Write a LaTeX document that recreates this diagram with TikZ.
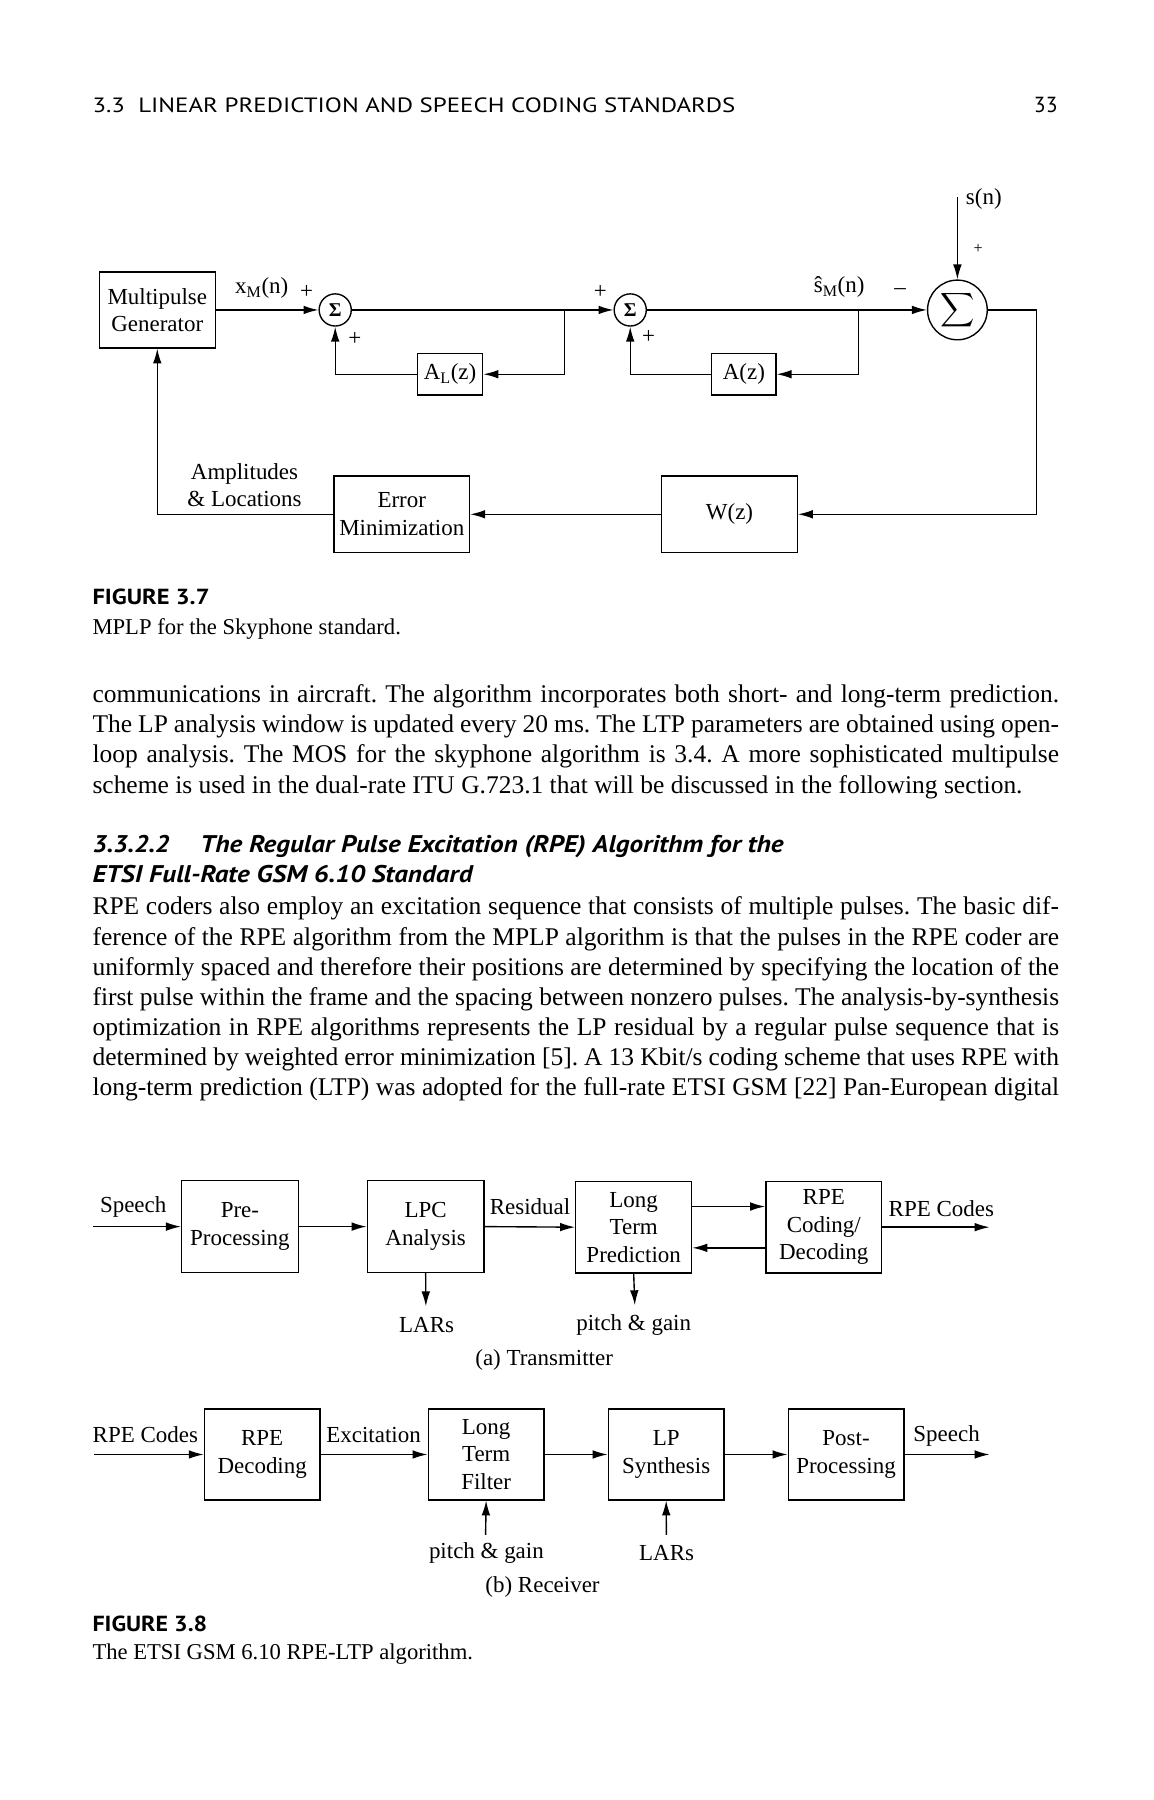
\documentclass[tikz,border=0pt]{standalone}
\usepackage{graphicx}
\usepackage{amsmath}
\usepackage{fontspec}
\setmainfont{Liberation Serif}
\newfontfamily\hsans{PT Sans}
\usetikzlibrary{arrows.meta,calc}
\frenchspacing
\newcommand\fitto[2]{\resizebox{#1}{\height}{#2}}
\newcommand\dfont{\fontsize{20}{24}\selectfont}
\newcommand\bfont{\fontsize{22.2}{26}\selectfont}
\newcommand\jl[1]{\makebox[842pt][s]{#1}}
\begin{document}
\begin{tikzpicture}[x=1pt,y=-1pt,line width=1.2pt,
  >={Latex[length=13pt,width=7.5pt]},
  blk/.style={draw,inner sep=0pt,align=center,font=\dfont},
  sumc/.style={draw,circle,inner sep=0pt,minimum size=28pt,font=\fontsize{17}{17}\selectfont\bfseries},
  lab/.style={inner sep=0pt,font=\dfont},
  pm/.style={inner sep=0pt,font=\fontsize{20}{20}\selectfont},
  conn/.style={draw,->},
  bodyline/.style={anchor=base west,inner sep=0pt,font=\bfont},
  capline/.style={anchor=base west,inner sep=0pt,font=\fontsize{19.7}{24}\selectfont},
  figlab/.style={anchor=base west,inner sep=0pt,font=\hsans\bfseries\fontsize{19}{22}\selectfont}]
\useasboundingbox[fill=white] (0,0) rectangle (1005,1568);

% ---------- running header ----------
\node[anchor=base west,inner sep=0pt] (hdr) at (80,98) {\fitto{560pt}{\hsans\fontsize{18}{20}\selectfont 3.3\ \ LINEAR PREDICTION AND SPEECH CODING STANDARDS}};
\node[anchor=base east,inner sep=0pt] (pg) at (922,98) {\hsans\fontsize{19}{20}\selectfont 33};

% ---------- Figure 3.7 ----------
\node[blk,minimum width=101pt,minimum height=66pt] (mp) at (137,270) {Multipulse\\Generator};
\node[sumc] (s1) at (292,270) {Σ};
\node[sumc] (s2) at (549,270) {Σ};
\node[blk,minimum width=57pt,minimum height=36pt] (al) at (392,326) {A\textsubscript{L}(z)};
\node[blk,minimum width=56pt,minimum height=36pt] (az) at (648,326) {A(z)};
\node[draw,circle,inner sep=0pt,minimum size=52pt,font=\dfont] (big) at (834,270) {$\displaystyle\sum$};
\node[blk,minimum width=118pt,minimum height=67pt] (wz) at (635.5,448) {W(z)};
\node[blk,minimum width=118pt,minimum height=67pt] (em) at (350,448) {Error\\Minimization};
\coordinate (b1) at (492,270);
\coordinate (b2) at (748,270);
\coordinate (sn) at (834,172);
\coordinate (rt) at (903,270);

\draw[->] (mp.east) -- (s1.west);
\draw[->] (s1.east) -- (s2.west);
\draw[->] (b1) |- (al.east);
\draw[->] (al.west) -| (s1.south);
\draw[->] (s2.east) -- (big.west);
\draw[->] (b2) |- (az.east);
\draw[->] (az.west) -| (s2.south);
\draw[->] (sn) -- (big.north);
\draw[->] (big.east) -- (rt) |- (wz.east);
\draw[->] (wz.west) -- (em.east);
\draw[->] (em.west) -| (mp.south);

\node[lab] (xm) at (228,251) {x\textsubscript{M}(n)};
\node[pm] (p1) at (267,254) {+};
\node[pm] (p2) at (309,295) {+};
\node[pm] (p3) at (523,254) {+};
\node[pm] (p4) at (565,294) {+};
\node[lab] (sm) at (731,250) {\^{s}\textsubscript{M}(n)};
\node[pm] (mn) at (784,254) {\textendash};
\node[lab] (snl) at (857,173) {s(n)};
\node[pm,font=\fontsize{14}{14}\selectfont] (p5) at (852,217) {+};
\node[lab,align=center,font=\fontsize{20}{23.5}\selectfont] (amp) at (213,423) {Amplitudes\\\& Locations};

% caption 3.7
\node[figlab] (f37) at (80,527) {\fitto{102pt}{FIGURE 3.7}};
\node[capline] (c37) at (80,553) {MPLP for the Skyphone standard.};

% ---------- body text ----------
\node[bodyline] (a1) at (80,612) {\jl{communications in aircraft. The algorithm incorporates both short- and long-term prediction.}};
\node[bodyline] (a2) at (80,638.3) {\jl{The LP analysis window is updated every 20 ms. The LTP parameters are obtained using open-}};
\node[bodyline] (a3) at (80,664.6) {\jl{loop analysis. The MOS for the skyphone algorithm is 3.4. A more sophisticated multipulse}};
\node[bodyline] (a4) at (80,691) {scheme is used in the dual-rate ITU G.723.1 that will be discussed in the following section.};

\node[anchor=base west,inner sep=0pt] (hn) at (80,743) {\fitto{67pt}{\hsans\bfseries\itshape\fontsize{21}{24}\selectfont 3.3.2.2}};
\node[anchor=base west,inner sep=0pt] (h1) at (174,743) {\fitto{508pt}{\hsans\bfseries\itshape\fontsize{21}{24}\selectfont The Regular Pulse Excitation (RPE) Algorithm for the}};
\node[anchor=base west,inner sep=0pt] (h2) at (80,769) {\fitto{331pt}{\hsans\bfseries\itshape\fontsize{21}{24}\selectfont ETSI Full-Rate GSM 6.10 Standard}};

\node[bodyline] (b1l) at (80,797) {\jl{RPE coders also employ an excitation sequence that consists of multiple pulses. The basic dif-}};
\node[bodyline] (b2l) at (80,823.2) {\jl{ference of the RPE algorithm from the MPLP algorithm is that the pulses in the RPE coder are}};
\node[bodyline] (b3l) at (80,849.4) {\jl{uniformly spaced and therefore their positions are determined by specifying the location of the}};
\node[bodyline] (b4l) at (80,875.6) {\jl{first pulse within the frame and the spacing between nonzero pulses. The analysis-by-synthesis}};
\node[bodyline] (b5l) at (80,901.8) {\jl{optimization in RPE algorithms represents the LP residual by a regular pulse sequence that is}};
\node[bodyline] (b6l) at (80,928) {\jl{determined by weighted error minimization [5]. A 13 Kbit/s coding scheme that uses RPE with}};
\node[bodyline] (b7l) at (80,954.2) {\jl{long-term prediction (LTP) was adopted for the full-rate ETSI GSM [22] Pan-European digital}};

% ---------- Figure 3.8 (a) Transmitter ----------
\node[blk,minimum width=101.6pt,minimum height=80pt] (pre) at (209,1068.5) {Pre-\\Processing};
\node[blk,minimum width=101.6pt,minimum height=80pt] (lpc) at (370.8,1068.5) {LPC\\Analysis};
\node[blk,minimum width=101pt,minimum height=80pt] (ltp) at (552,1069) {Long\\Term\\Prediction};
\node[blk,minimum width=101pt,minimum height=80pt] (rpe) at (717.6,1069) {RPE\\Coding/\\Decoding};
\coordinate (tin) at (81,1068.5);
\coordinate (tout) at (862,1069);
\coordinate (lars1) at (371,1138);
\coordinate (pg1) at (553,1137);
\draw[->] (tin) -- (pre.west);
\draw[->] (pre.east) -- (lpc.west);
\draw[->] (lpc.east) -- (ltp.west);
\draw[->] (ltp.east |- 0,1051) -- (rpe.west |- 0,1051);
\draw[->] (rpe.west |- 0,1087) -- (ltp.east |- 0,1087);
\draw[->] (rpe.east) -- (tout);
\draw[->] (lpc.south) -- (lars1);
\draw[->] (ltp.south) -- (pg1);
\node[lab] (sp1) at (116,1051) {Speech};
\node[lab] (res) at (461.7,1051) {Residual};
\node[lab] (rc1) at (820,1052.6) {RPE Codes};
\node[lab] (lar1) at (371.6,1154) {LARs};
\node[lab] (pgl1) at (552,1154) {pitch \& gain};
\node[lab] (tx) at (474,1185) {(a) Transmitter};

% ---------- Figure 3.8 (b) Receiver ----------
\node[blk,minimum width=100.7pt,minimum height=79pt] (rdec) at (228.4,1267) {RPE\\Decoding};
\node[blk,minimum width=101pt,minimum height=79pt] (ltf) at (423.5,1267) {Long\\Term\\Filter};
\node[blk,minimum width=100.8pt,minimum height=79pt] (lps) at (580.3,1267) {LP\\Synthesis};
\node[blk,minimum width=100.8pt,minimum height=79pt] (post) at (737,1267) {Post-\\Processing};
\coordinate (rin) at (82,1267);
\coordinate (rout) at (862,1267);
\coordinate (pg2) at (423,1337);
\coordinate (lars2) at (580.5,1337);
\draw[->] (rin) -- (rdec.west);
\draw[->] (rdec.east) -- (ltf.west);
\draw[->] (ltf.east) -- (lps.west);
\draw[->] (lps.east) -- (post.west);
\draw[->] (post.east) -- (rout);
\draw[->] (pg2) -- (ltf.south);
\draw[->] (lars2) -- (lps.south);
\node[lab] (rc2) at (126.6,1249.5) {RPE Codes};
\node[lab] (exc) at (325.4,1250) {Excitation};
\node[lab] (sp2) at (824.6,1251) {Speech};
\node[lab] (pgl2) at (423.7,1353) {pitch \& gain};
\node[lab] (lar2) at (580.7,1353) {LARs};
\node[lab] (rx) at (472.6,1382) {(b) Receiver};

% caption 3.8
\node[figlab] (f38) at (80,1421) {\fitto{100pt}{FIGURE 3.8}};
\node[capline] (c38) at (80,1446) {The ETSI GSM 6.10 RPE-LTP algorithm.};
\end{tikzpicture}
\end{document}
